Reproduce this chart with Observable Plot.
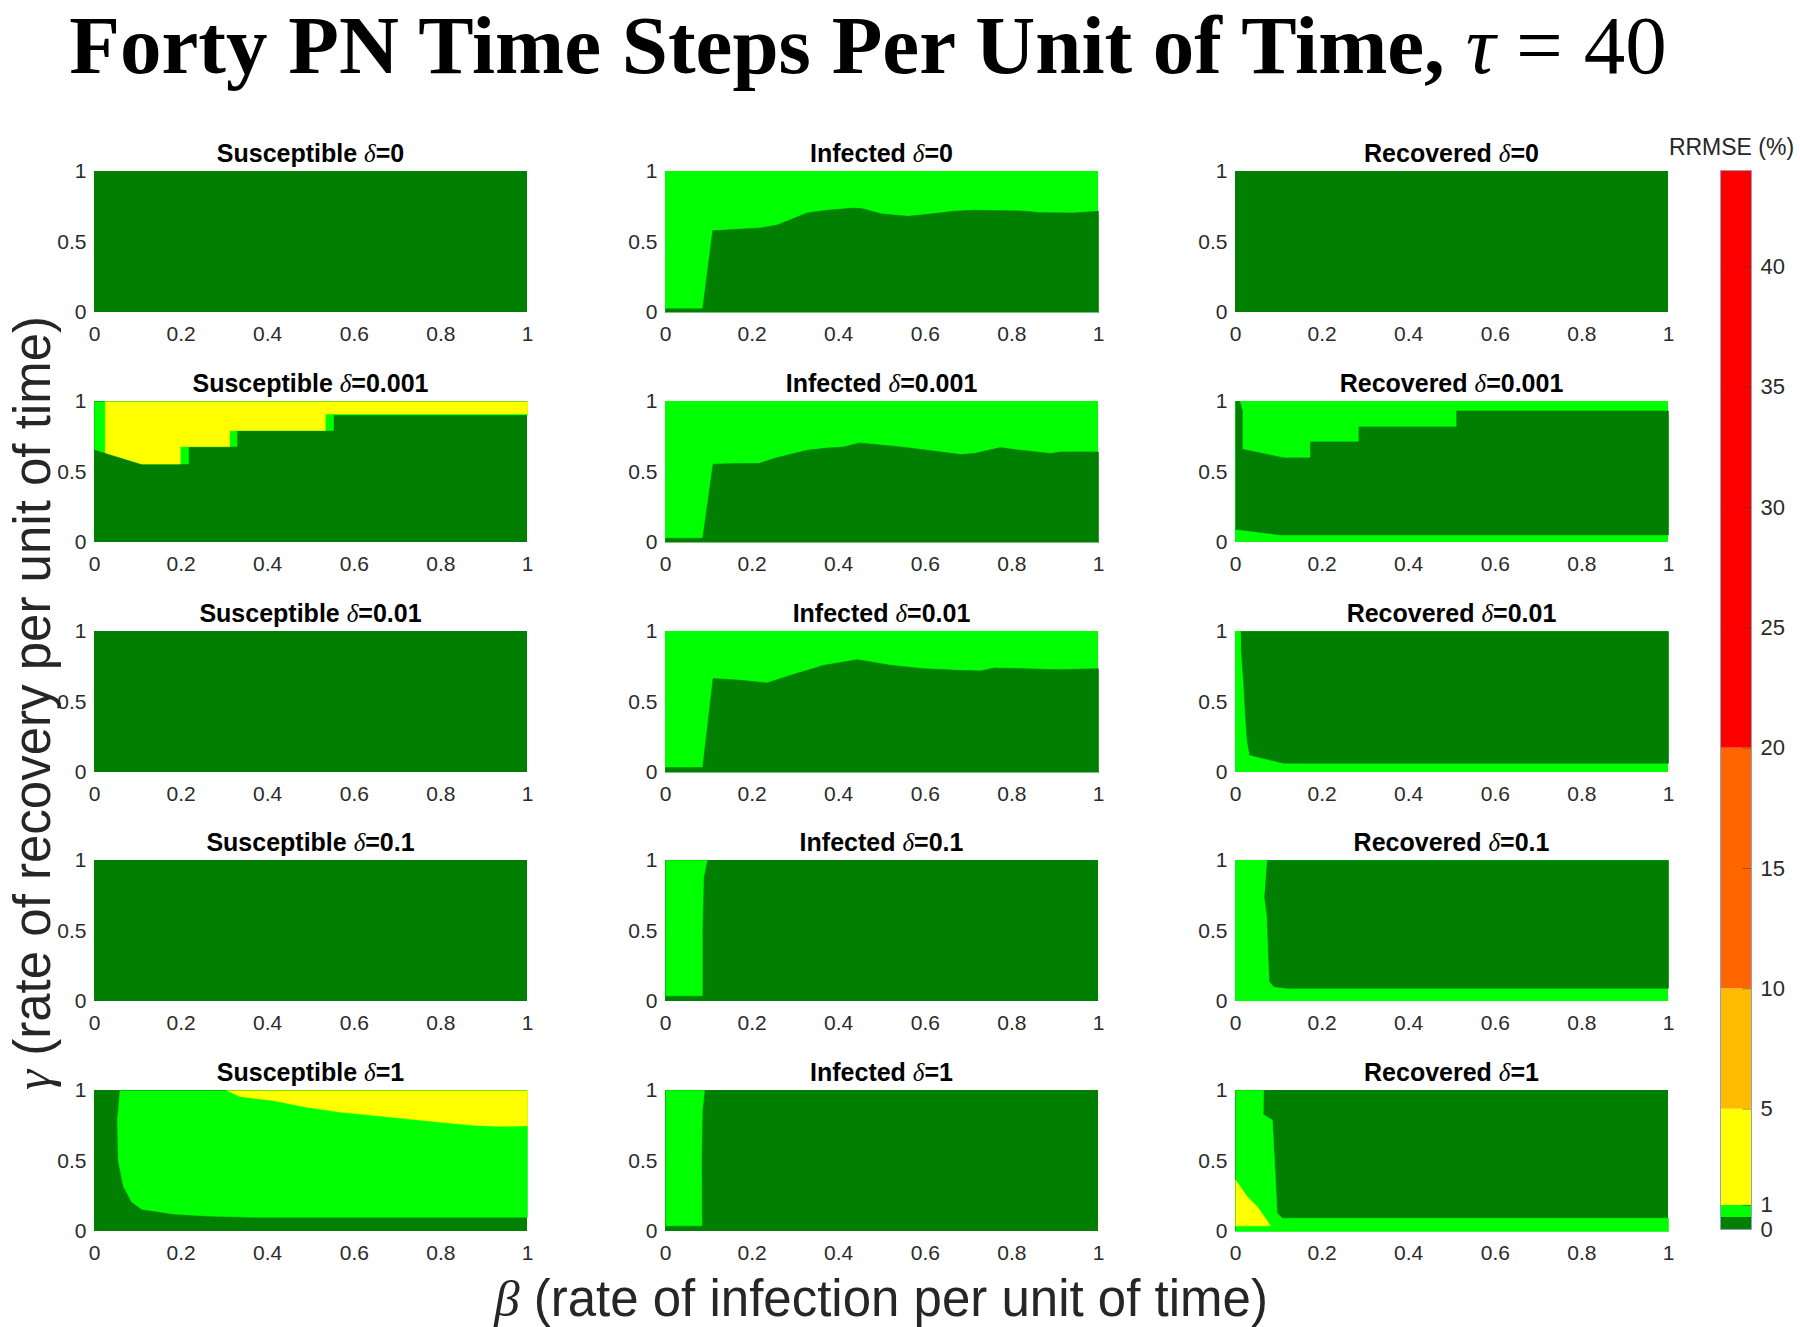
<!DOCTYPE html>
<html><head><meta charset="utf-8">
<script src="https://cdn.jsdelivr.net/npm/d3@7"></script>
<script src="https://cdn.jsdelivr.net/npm/@observablehq/plot@0.6"></script>
<style>
body{margin:0;background:#fff;}
#root{position:relative;width:1800px;height:1327px;overflow:hidden;font-family:"Liberation Sans",Arial,sans-serif;background:#fff;}
.abs{position:absolute;}
.ptitle{position:absolute;font-weight:bold;font-size:25px;line-height:25px;text-align:center;color:#000;white-space:nowrap;}
.m{font-family:"Liberation Serif",serif;font-style:italic;font-weight:normal;}
#title{position:absolute;left:0;top:4px;width:1736px;text-align:center;font-family:"Liberation Serif",serif;font-weight:bold;font-size:83px;line-height:83px;white-space:nowrap;color:#000;}
.big{position:absolute;font-size:51px;line-height:51px;white-space:nowrap;color:#262626;}
</style></head><body><div id="root"></div><script>
// ---------- data ----------
const states = ["Susceptible", "Infected", "Recovered"];
const deltas = ["0", "0.001", "0.01", "0.1", "1"];
const xTicks = [0, 0.2, 0.4, 0.6, 0.8, 1];
const yTicks = [0, 0.5, 1];
const cbBreaks = [0, 0.5, 1, 5, 10, 20, 44];
const cbColors = ["#007f00", "#00ff00", "#ffff00", "#ffbb00", "#ff6600", "#ff0000"];
const cbTicks = [0, 1, 5, 10, 15, 20, 25, 30, 35, 40];

// background RRMSE level of each panel (rows: delta, cols: S, I, R)
const baseLevel = [
  0.2, 0.8, 0.2,
  0.2, 0.8, 0.8,
  0.2, 0.8, 0.8,
  0.2, 0.2, 0.8,
  0.2, 0.2, 0.2
];

// region polygons [beta, gamma]
const S001_light = [[0,1],[0,0.66],[0.109,0.557],[0.217,0.557],[0.217,0.68],[0.329,0.68],[0.329,0.794],[0.552,0.794],[0.552,0.905],[1,0.905],[1,1]];
const S001_yellow = [[0.025,1],[0.025,0.636],[0.109,0.557],[0.198,0.557],[0.198,0.68],[0.312,0.68],[0.312,0.794],[0.533,0.794],[0.533,0.912],[1,0.912],[1,1]];
const I0_dark = [[0,0],[0,0.026],[0.086,0.026],[0.109,0.579],[0.158,0.588],[0.22,0.6],[0.258,0.62],[0.327,0.706],[0.374,0.725],[0.435,0.741],[0.455,0.736],[0.497,0.7],[0.559,0.682],[0.605,0.696],[0.666,0.718],[0.713,0.725],[0.82,0.72],[0.867,0.708],[0.944,0.706],[1,0.718],[1,0]];
const I001_dark = [[0,0],[0,0.03],[0.086,0.03],[0.11,0.555],[0.166,0.56],[0.216,0.56],[0.25,0.595],[0.327,0.654],[0.374,0.67],[0.412,0.678],[0.447,0.706],[0.48,0.696],[0.543,0.678],[0.605,0.654],[0.682,0.624],[0.713,0.631],[0.774,0.673],[0.805,0.659],[0.89,0.631],[0.913,0.642],[1,0.642],[1,0]];
const R001_dark = [[0,1],[0.01,1],[0.016,0.93],[0.016,0.661],[0.112,0.6],[0.173,0.6],[0.173,0.713],[0.285,0.713],[0.285,0.819],[0.511,0.819],[0.511,0.932],[1,0.932],[1,0.054],[0.104,0.054],[0,0.094]];
const I01_dark = [[0,0],[0,0.035],[0.086,0.035],[0.11,0.666],[0.173,0.654],[0.235,0.635],[0.289,0.689],[0.366,0.76],[0.443,0.8],[0.52,0.76],[0.597,0.736],[0.674,0.725],[0.728,0.72],[0.759,0.741],[0.828,0.736],[0.905,0.729],[1,0.736],[1,0]];
const R01_dark = [[0.012,1],[1,1],[1,0.066],[0.112,0.066],[0.065,0.1],[0.033,0.125],[0.027,0.23],[0.023,0.395],[0.019,0.63],[0.013,0.89]];
const I1_light = [[0,1],[0.096,1],[0.088,0.88],[0.085,0.5],[0.085,0.04],[0,0.04]];
const R1_dark = [[0.073,1],[1,1],[1,0.094],[0.119,0.094],[0.089,0.105],[0.079,0.141],[0.077,0.28],[0.073,0.61],[0.067,0.75]];
const Sd1_light = [[0.059,1],[0.053,0.79],[0.055,0.5],[0.067,0.32],[0.086,0.21],[0.109,0.158],[0.182,0.125],[0.26,0.11],[0.375,0.101],[1,0.101],[1,1]];
const Sd1_yellow = [[0.306,1],[0.336,0.958],[0.413,0.929],[0.444,0.91],[0.49,0.882],[0.567,0.847],[0.644,0.824],[0.76,0.788],[0.875,0.753],[0.937,0.746],[1,0.75],[1,1]];
const Id1_light = [[0,1],[0.09,1],[0.085,0.85],[0.083,0.5],[0.084,0.04],[0,0.04]];
const Rd1_light = [[0,1],[0.065,1],[0.064,0.83],[0.085,0.79],[0.092,0.39],[0.096,0.13],[0.108,0.094],[1,0.094],[1,0],[0,0]];
const Rd1_yellow = [[0,0.365],[0.027,0.247],[0.05,0.176],[0.081,0.04],[0,0.04]];

// [panel index, RRMSE level, polygon]
const regions = [
  [1, 0.2, I0_dark],
  [3, 0.8, S001_light], [3, 3, S001_yellow],
  [4, 0.2, I001_dark],
  [5, 0.2, R001_dark],
  [7, 0.2, I01_dark],
  [8, 0.2, R01_dark],
  [10, 0.8, I1_light],
  [11, 0.2, R1_dark],
  [12, 0.8, Sd1_light], [12, 3, Sd1_yellow],
  [13, 0.8, Id1_light],
  [14, 0.8, Rd1_light], [14, 3, Rd1_yellow]
];

// ---------- layout ----------
const root = document.getElementById("root");
const colLeft = [94, 665, 1235];
const rowTop = [171, 401, 631, 860, 1090];
const PW = 433, PH = 141;
const ML = 55, MR = 22, MT = 5, MB = 45;
const colorOf = d3.scaleThreshold().domain(cbBreaks.slice(1, -1)).range(cbColors);

const t = document.createElement("div");
t.id = "title";
t.innerHTML = 'Forty PN Time Steps Per Unit of Time, <span style="font-style:italic;font-weight:normal">τ</span><span style="font-weight:normal"> = 40</span>';
root.appendChild(t);

deltas.forEach((dl, r) => {
  states.forEach((st, c) => {
    const idx = r * 3 + c;
    const marks = [
      Plot.rect([{x1: 0, x2: 1, y1: 0, y2: 1}], {x1: "x1", x2: "x2", y1: "y1", y2: "y2", fill: colorOf(baseLevel[idx])})
    ];
    regions.filter(g => g[0] === idx).forEach(g => {
      marks.push(Plot.line(g[2], {x: d => d[0], y: d => d[1], fill: colorOf(g[1]), stroke: colorOf(g[1]), strokeWidth: 0.6, curve: "linear"}));
    });
    const svg = Plot.plot({
      width: PW + ML + MR, height: PH + MT + MB,
      marginLeft: ML, marginRight: MR, marginTop: MT, marginBottom: MB,
      x: {domain: [0, 1], ticks: xTicks, tickSize: 0, tickPadding: 14, label: null, tickFormat: d => String(d)},
      y: {domain: [0, 1], ticks: yTicks, tickSize: 0, tickPadding: 8, label: null, tickFormat: d => String(d)},
      style: {fontFamily: "Liberation Sans, Arial, sans-serif", fontSize: "21px", color: "#2b2b2b", background: "transparent", overflow: "visible"},
      marks
    });
    svg.style.position = "absolute";
    svg.style.left = (colLeft[c] - ML) + "px";
    svg.style.top = (rowTop[r] - MT) + "px";
    root.appendChild(svg);
    const tt = document.createElement("div");
    tt.className = "ptitle";
    tt.style.left = (colLeft[c] - 40) + "px";
    tt.style.width = (PW + 80) + "px";
    tt.style.top = (rowTop[r] - 30) + "px";
    tt.innerHTML = st + ' <span class="m">δ</span>=' + dl;
    root.appendChild(tt);
  });
});

// colorbar
const cbData = cbColors.map((col, i) => ({y1: cbBreaks[i], y2: cbBreaks[i + 1], c: col}));
const cb = Plot.plot({
  width: 31 + 5 + 48, height: 1059 + 5 + 12,
  marginLeft: 5, marginRight: 48, marginTop: 5, marginBottom: 12,
  x: {domain: [0, 1], axis: null},
  y: {domain: [0, 44], ticks: cbTicks, tickSize: 0, tickPadding: 9, label: null, axis: "right"},
  style: {fontFamily: "Liberation Sans, Arial, sans-serif", fontSize: "22px", color: "#2b2b2b", background: "transparent"},
  marks: [
    Plot.rect(cbData, {x1: 0, x2: 1, y1: "y1", y2: "y2", fill: "c"}),
    Plot.ruleY(cbTicks, {x1: 0.72, x2: 1, stroke: "#333", strokeOpacity: 0.45}),
    Plot.frame({stroke: "#9a9cb8"})
  ]
});
cb.style.position = "absolute";
cb.style.left = (1720 - 5) + "px";
cb.style.top = (170 - 5) + "px";
root.appendChild(cb);

const rl = document.createElement("div");
rl.className = "abs";
rl.style.cssText = "left:1664px;top:136px;width:135px;text-align:center;font-size:23px;line-height:23px;color:#262626;white-space:nowrap;";
rl.textContent = "RRMSE (%)";
root.appendChild(rl);

const yl = document.createElement("div");
yl.className = "big";
yl.style.left = "33px"; yl.style.top = "703px";
yl.style.transform = "translate(-50%,-50%) rotate(-90deg)";
yl.innerHTML = '<span class="m">γ</span> (rate of recovery per unit of time)';
root.appendChild(yl);

const xl = document.createElement("div");
xl.className = "big";
xl.style.left = "881px"; xl.style.top = "1299px";
xl.style.transform = "translate(-50%,-50%)";
xl.innerHTML = '<span class="m">β</span> (rate of infection per unit of time)';
root.appendChild(xl);
</script></body></html>
